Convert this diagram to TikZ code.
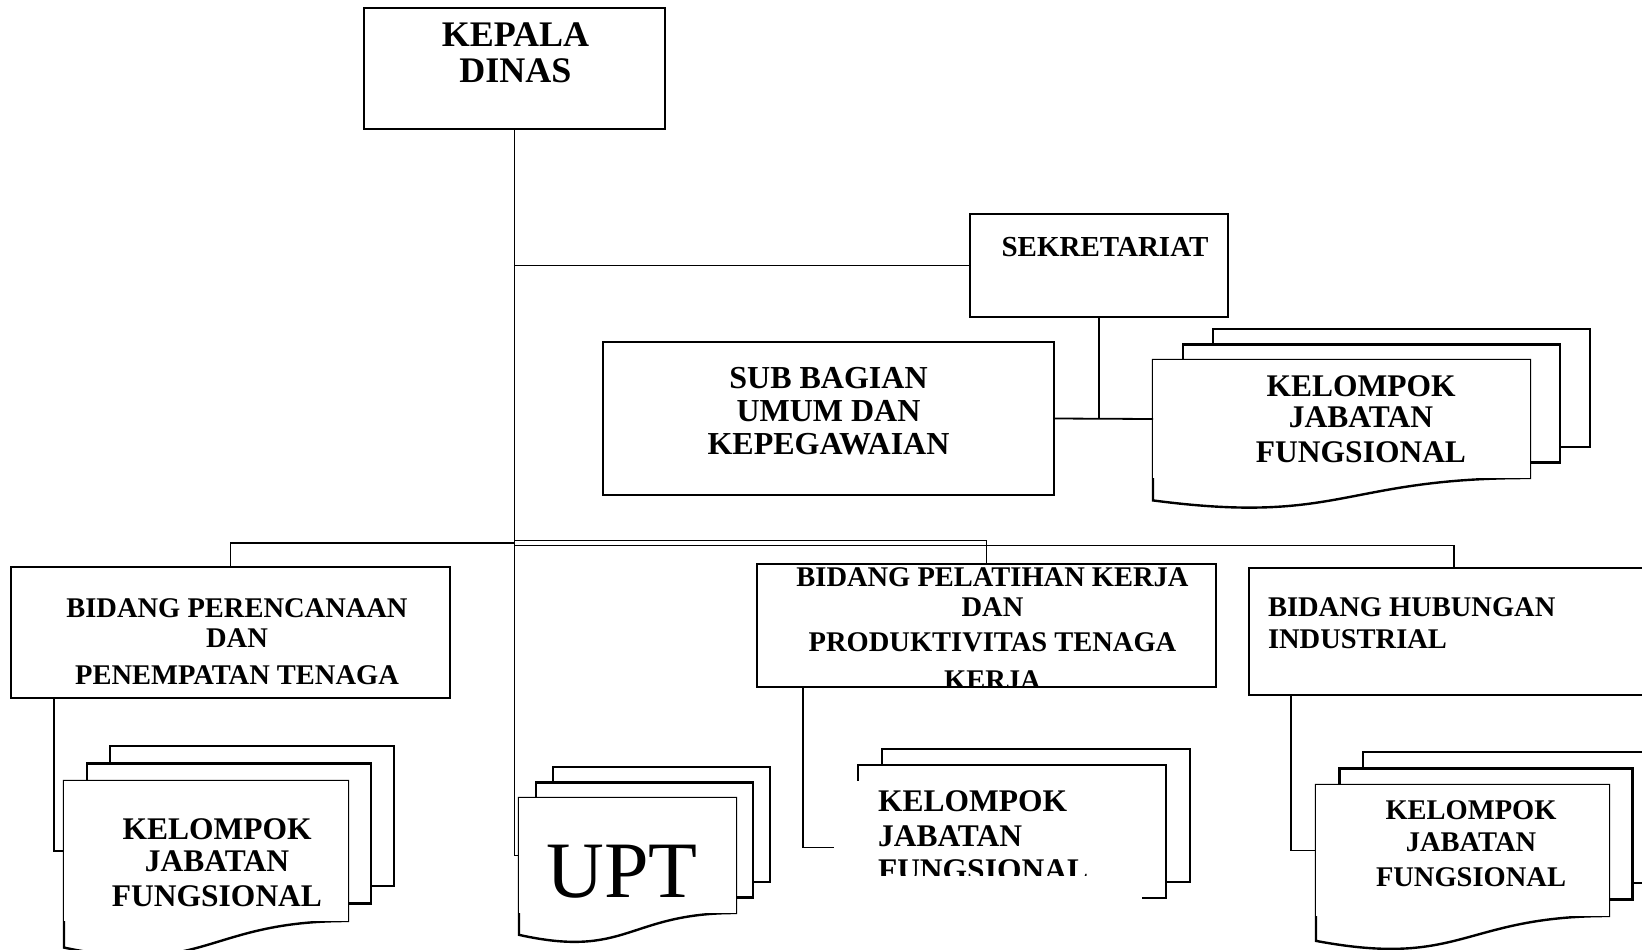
\documentclass[tikz,border=0pt]{standalone}
\usepackage{fontspec}
\setmainfont{Liberation Serif}
\usetikzlibrary{calc}

\begin{document}
\begin{tikzpicture}[x=1pt, y=-1pt,
unitbox/.style={rectangle, draw=black, fill=white, line width=2.2pt, inner sep=0pt, outer sep=0pt, anchor=north west},
backpage/.style={rectangle, draw=black, fill=white, line width=2.4pt, inner sep=0pt, outer sep=0pt, anchor=north west},
docpage/.style={rectangle, fill=white, inner sep=0pt, outer sep=0pt, anchor=north west,
  append after command={\pgfextra{\let\pagenode=\tikzlastnode
    \draw[line width=2.4pt] (\pagenode.north west) -- (\pagenode.north east) -- (\pagenode.south east)
      .. controls (\pagenode.south) and ($(\pagenode.north)!1.4!(\pagenode.south)$)
      .. ($(\pagenode.north west)!1.19!(\pagenode.south west)$) -- cycle;}}},
boxtext/.style={font=\bfseries\fontsize{28.5}{30}\selectfont, align=center, inner sep=0pt, draw=none, fill=none, minimum width=0pt, minimum height=0pt},
link/.style={draw=black, line width=1.8pt},
]

\path[use as bounding box, fill=white] (0,0) rectangle (1642,950);

% pimpinan dan sekretariat
\node (kepala) [unitbox, minimum width=301pt, minimum height=121pt, label={[boxtext, font=\bfseries\fontsize{36}{36}\selectfont, xshift=1pt, yshift=-75pt]above:{KEPALA\\DINAS}}] at (364, 8) {};

\node (sekretariat) [unitbox, minimum width=258pt, minimum height=103pt, label={[boxtext, font=\bfseries\fontsize{29}{30}\selectfont, xshift=6pt, yshift=-43pt]above:{SEKRETARIAT}}] at (970, 214) {};

\node (subbagian) [unitbox, minimum width=451pt, minimum height=153pt, label={[boxtext, font=\bfseries\fontsize{32}{33}\selectfont, yshift=-113pt]above:{SUB BAGIAN\\UMUM DAN\\KEPEGAWAIAN}}] at (603, 342) {};

\node (kjf1c) [backpage, minimum width=377pt, minimum height=118pt] at (1213, 329) {};
\node (kjf1b) [backpage, minimum width=377pt, minimum height=118pt] at (1183, 344.5) {};
\node (kjf1) [docpage, minimum width=377pt, minimum height=118pt, label={[boxtext, font=\bfseries\fontsize{31.5}{31}\selectfont, xshift=19.5pt, yshift=-103pt]above:{KELOMPOK\\JABATAN\\[4pt]FUNGSIONAL}}] at (1153, 360) {};

% bidang
\node (bidang1) [unitbox, minimum width=439pt, minimum height=131pt, label={[boxtext, xshift=6.5pt, yshift=-118pt]above:{BIDANG PERENCANAAN\\DAN\\[7pt]PENEMPATAN TENAGA}}] at (11, 567) {};

\node (bidang2) [unitbox, minimum width=459pt, minimum height=123pt, path picture={\node (bidang2txt) [boxtext, anchor=north, xshift=6pt, yshift=-4pt] at (path picture bounding box.north) {BIDANG PELATIHAN KERJA\\DAN\\[5pt]PRODUKTIVITAS TENAGA\\[8pt]KERJA};}] at (757, 564) {};

\node (bidang3) [unitbox, minimum width=410pt, minimum height=127pt, path picture={\node (bidang3txt) [boxtext, font=\bfseries\fontsize{28.5}{32}\selectfont, align=left, anchor=north west, xshift=19pt, yshift=-30pt] at (path picture bounding box.north west) {BIDANG HUBUNGAN\\INDUSTRIAL};}] at (1249, 568) {};

% kelompok jabatan fungsional dan upt
\node (kjf2c) [backpage, minimum width=284pt, minimum height=140pt] at (110, 746) {};
\node (kjf2b) [backpage, minimum width=284pt, minimum height=140pt] at (87, 763.5) {};
\node (kjf2) [docpage, minimum width=284pt, minimum height=140pt, label={[boxtext, font=\bfseries\fontsize{31.5}{32}\selectfont, xshift=11pt, yshift=-126pt]above:{KELOMPOK\\JABATAN\\[3pt]FUNGSIONAL}}] at (64, 781) {};

\node (uptc) [backpage, minimum width=217pt, minimum height=115pt] at (553, 767) {};
\node (uptb) [backpage, minimum width=217pt, minimum height=115pt] at (536, 782.5) {};
\node (upt) [docpage, minimum width=217pt, minimum height=115pt, label={[inner sep=0pt, font=\fontsize{80}{80}\selectfont, xshift=-5.5pt, yshift=-100pt]above:{UPT}}] at (519, 798) {};

\node (kjf4c) [backpage, minimum width=308pt, minimum height=133pt] at (882, 749) {};
\node (kjf4b) [backpage, minimum width=308pt, minimum height=133pt] at (858, 765) {};
\node (kjf4) [rectangle, fill=white, inner sep=0pt, outer sep=0pt, anchor=north west, minimum width=308pt, minimum height=133pt, path picture={\clip (path picture bounding box.north west) rectangle ([yshift=-94pt]path picture bounding box.north east); \node (kjf4txt) [boxtext, font=\bfseries\fontsize{31.5}{34.5}\selectfont, align=left, anchor=north west, xshift=44pt, yshift=-10pt] at (path picture bounding box.north west) {KELOMPOK\\JABATAN\\FUNGSIONAL};}] at (834, 781) {};

\node (kjf5c) [backpage, minimum width=293pt, minimum height=131pt] at (1363, 752) {};
\node (kjf5b) [backpage, minimum width=293pt, minimum height=131pt] at (1339.5, 768.5) {};
\node (kjf5) [docpage, minimum width=293pt, minimum height=131pt, label={[boxtext, font=\bfseries\fontsize{28.5}{32}\selectfont, xshift=8.5pt, yshift=-102pt]above:{KELOMPOK\\JABATAN\\[3pt]FUNGSIONAL}}] at (1316, 785) {};

% garis
\coordinate (bus1) at (514.5, 543);
\coordinate (bus2) at (514.5, 540.5);
\coordinate (bus3) at (514.5, 545.5);

\draw[link] (kepala.south) |- (upt.west);
\draw[link] (kepala.south |- sekretariat.west) -- (sekretariat.west);
\draw[link] (sekretariat.south) -- (sekretariat.south |- kjf1.west);
\draw[link] (subbagian.east) -- (kjf1.west);
\draw[link] (bus1) -| (bidang1.north);
\draw[link] (bus2) -| (bidang2.north);
\draw[link] (bus3) -| (bidang3.north);
\draw[link] ([xshift=43pt]bidang1.south west) |- (kjf2.west);
\draw[link] ([xshift=46pt]bidang2.south west) |- (kjf4.west);
\draw[link] ([xshift=42pt]bidang3.south west) |- (kjf5.west);

\end{tikzpicture}
\end{document}
